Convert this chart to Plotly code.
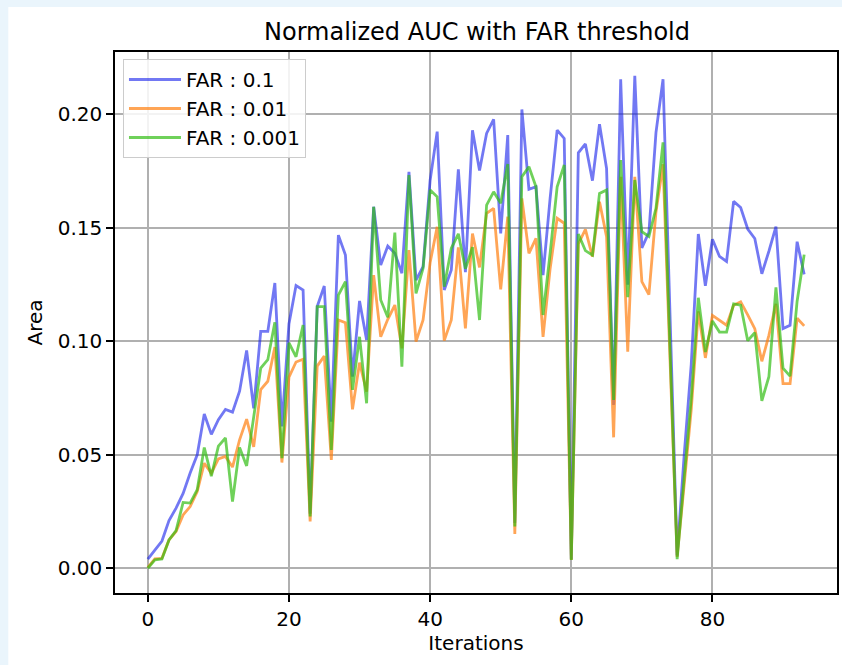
import plotly.graph_objects as go

iterations = list(range(94))

far_01 = [0.004, 0.008, 0.012, 0.021, 0.0265, 0.033, 0.042, 0.050, 0.068, 0.059,
          0.0655, 0.070, 0.0688, 0.078, 0.096, 0.0705, 0.1044, 0.1044, 0.1257, 0.0625,
          0.1078, 0.1246, 0.1226, 0.024, 0.1153, 0.1244, 0.0646, 0.1468, 0.138, 0.0844,
          0.1178, 0.1006, 0.1593, 0.1336, 0.142, 0.1388, 0.130, 0.1747, 0.127, 0.1329,
          0.171, 0.1924, 0.1226, 0.1314, 0.1758, 0.1305, 0.193, 0.1753, 0.1916, 0.1978,
          0.1476, 0.1909, 0.020, 0.2022, 0.167, 0.1681, 0.1292, 0.163, 0.1931, 0.1894,
          0.004, 0.1831, 0.187, 0.1708, 0.1957, 0.1762, 0.072, 0.2155, 0.125, 0.217,
          0.1412, 0.148, 0.192, 0.2155, 0.111, 0.0056, 0.05, 0.09, 0.1473, 0.1245,
          0.145, 0.1374, 0.1352, 0.1617, 0.159, 0.1495, 0.1453, 0.1298, 0.1397, 0.1506,
          0.1056, 0.1071, 0.1439, 0.1295]

far_001 = [0.0004, 0.0041, 0.0044, 0.0125, 0.0162, 0.0235, 0.0272, 0.0338, 0.0463, 0.0419,
           0.0482, 0.0493, 0.0446, 0.0566, 0.0657, 0.0535, 0.0787, 0.0824, 0.0975, 0.0466,
           0.0842, 0.0909, 0.0921, 0.0206, 0.0891, 0.0935, 0.0477, 0.1094, 0.1082, 0.070,
           0.0906, 0.0778, 0.1292, 0.102, 0.1097, 0.116, 0.0969, 0.1402, 0.0999, 0.1094,
           0.1347, 0.1505, 0.1003, 0.1094, 0.1414, 0.1057, 0.1475, 0.1326, 0.1564, 0.1586,
           0.1229, 0.1549, 0.0151, 0.163, 0.1388, 0.1454, 0.102, 0.132, 0.1542, 0.152,
           0.0037, 0.1429, 0.1493, 0.1373, 0.1615, 0.1461, 0.0577, 0.1725, 0.0954, 0.1725,
           0.1263, 0.1206, 0.157, 0.178, 0.091, 0.005, 0.037, 0.07, 0.1132, 0.0927,
           0.1114, 0.1094, 0.1071, 0.1159, 0.1174, 0.1117, 0.1056, 0.0912, 0.1026, 0.1165,
           0.0814, 0.0814, 0.1102, 0.1068]

far_0001 = [0.000, 0.0037, 0.0041, 0.0125, 0.0166, 0.029, 0.0287, 0.0346, 0.0532, 0.0406,
            0.0538, 0.0574, 0.0294, 0.0532, 0.0451, 0.0676, 0.0882, 0.0919, 0.1084, 0.0485,
            0.0993, 0.0932, 0.1072, 0.0228, 0.1153, 0.1153, 0.0521, 0.1204, 0.1263, 0.0786,
            0.102, 0.0727, 0.1593, 0.1182, 0.1106, 0.1479, 0.0888, 0.1733, 0.1211, 0.1322,
            0.1667, 0.1637, 0.1241, 0.141, 0.1474, 0.132, 0.1415, 0.1094, 0.160, 0.1659,
            0.1608, 0.1781, 0.0184, 0.1725, 0.1769, 0.1681, 0.1116, 0.1388, 0.1681, 0.1777,
            0.0037, 0.1473, 0.140, 0.138, 0.1652, 0.1667, 0.0742, 0.1799, 0.1195, 0.1711,
            0.1483, 0.1462, 0.1586, 0.1877, 0.096, 0.004, 0.04, 0.075, 0.1192, 0.0953,
            0.109, 0.1041, 0.1041, 0.1165, 0.1159, 0.1003, 0.1038, 0.0738, 0.0844, 0.1238,
            0.0882, 0.0847, 0.1177, 0.1382]

series_names = ["FAR : 0.1", "FAR : 0.01", "FAR : 0.001"]
series_values = [far_01, far_001, far_0001]
series_colors = ["rgba(20,30,235,0.6)", "rgba(255,127,14,0.7)", "rgba(50,190,20,0.7)"]

x_ticks = [0, 20, 40, 60, 80]
y_ticks = [0.00, 0.05, 0.10, 0.15, 0.20]

FONT = "DejaVu Sans, Liberation Sans, sans-serif"

fig = go.Figure()
for name, vals, col in zip(series_names, series_values, series_colors):
    fig.add_trace(go.Scatter(x=iterations, y=vals, mode="lines", name=name,
                             legendgroup=name,
                             line=dict(color=col, width=2.8)))

L, R, T, B = 115, 3, 52, 72
W, H = 842, 665
pw = W - L - R
ph = H - T - B

fig.update_layout(
    width=W, height=H,
    margin=dict(l=L, r=R, t=T, b=B, pad=0),
    paper_bgcolor="#eaf5fc",
    plot_bgcolor="white",
    font=dict(family=FONT, size=20, color="black"),
    title=dict(text="Normalized AUC with FAR threshold", x=(L + pw / 2) / W, xanchor="center",
               y=1 - 32 / H, yanchor="middle", font=dict(size=24, family=FONT)),
    showlegend=True,
    legend=dict(x=8 / pw, y=1 - 7 / ph, xanchor="left", yanchor="top",
                bgcolor="rgba(255,255,255,0.85)", bordercolor="#cccccc", borderwidth=1,
                font=dict(size=20, family=FONT), tracegroupgap=2, itemwidth=52,
                traceorder="normal"),
    shapes=[dict(type="rect", xref="paper", yref="paper",
                 x0=(8 - L) / pw, x1=(W - L + 20) / pw, y0=-(B + 20) / ph, y1=(H - B - 7) / ph,
                 fillcolor="white", line=dict(width=0), layer="below")],
)

fig.update_xaxes(range=[-4.65, 97.65], tickvals=x_ticks, ticks="outside", ticklen=7,
                 tickwidth=1.5, tickcolor="black", showgrid=True, gridcolor="#b0b0b0",
                 gridwidth=1.5, showline=True, linecolor="black", linewidth=1.5, mirror=True,
                 zeroline=False, tickfont=dict(size=20),
                 title=dict(text="Iterations", standoff=6, font=dict(size=20, family=FONT)))
fig.update_yaxes(range=[-0.0109, 0.2275], tickvals=y_ticks, tickformat=".2f",
                 ticks="outside", ticklen=7, tickwidth=1.5, tickcolor="black",
                 showgrid=True, gridcolor="#b0b0b0", gridwidth=1.5,
                 showline=True, linecolor="black", linewidth=1.5, mirror=True,
                 zeroline=False, tickfont=dict(size=20),
                 title=dict(text="Area", standoff=10, font=dict(size=20, family=FONT)))

fig.write_html("out.html",
               config={"displayModeBar": False},
               post_script="document.body.style.margin='0';"
                           "document.body.style.overflow='hidden';"
                           "document.body.style.background='#eaf5fc';")
